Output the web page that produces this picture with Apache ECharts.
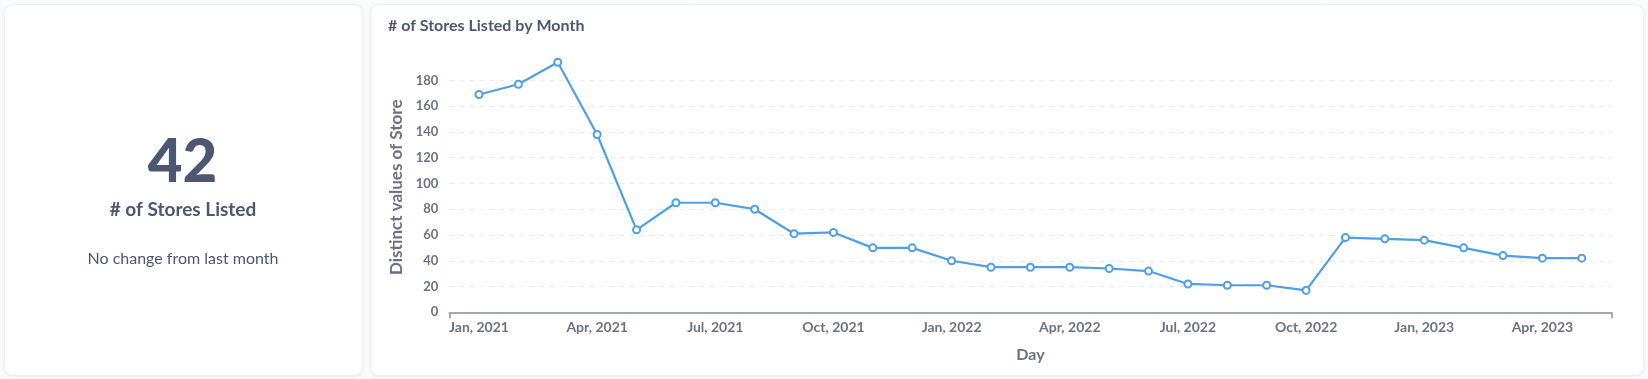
<!DOCTYPE html>
<html>
<head>
<meta charset="utf-8">
<script src="https://cdn.jsdelivr.net/npm/echarts@6/dist/echarts.min.js"></script>
<style>
  html, body { margin: 0; padding: 0; background: #f9fafb; }
  #main { width: 1648px; height: 379px; }
</style>
</head>
<body>
<div id="main"></div>
<script>
// ---- data ----
const months = [
  "Jan, 2021","Feb, 2021","Mar, 2021","Apr, 2021","May, 2021","Jun, 2021",
  "Jul, 2021","Aug, 2021","Sep, 2021","Oct, 2021","Nov, 2021","Dec, 2021",
  "Jan, 2022","Feb, 2022","Mar, 2022","Apr, 2022","May, 2022","Jun, 2022",
  "Jul, 2022","Aug, 2022","Sep, 2022","Oct, 2022","Nov, 2022","Dec, 2022",
  "Jan, 2023","Feb, 2023","Mar, 2023","Apr, 2023","May, 2023"
];
const storeCounts = [
  169, 177, 194, 138, 64, 85,
  85, 80, 61, 62, 50, 50,
  40, 35, 35, 35, 34, 32,
  22, 21, 21, 17, 58, 57,
  56, 50, 44, 42, 42
];
const xLabelIndices = [0, 3, 6, 9, 12, 15, 18, 21, 24, 27];
const yTicks = [0, 20, 40, 60, 80, 100, 120, 140, 160, 180];
const scalarValue = "42";
const scalarTitle = "# of Stores Listed";
const scalarNote = "No change from last month";
const chartTitle = "# of Stores Listed by Month";
const yName = "Distinct values of Store";
const xName = "Day";

const X_MIN = -0.754, X_MAX = 28.76;
const FONT = "Lato, 'Noto Sans', sans-serif";
const TEXT = "#4c5773";
const LABEL = "#6c7283";

const chart = echarts.init(document.getElementById('main'), null, { renderer: 'canvas' });
chart.setOption({
  backgroundColor: '#f9fafb',
  animation: false,
  textStyle: { fontFamily: FONT },
  graphic: [
    { type: 'rect', z: -10, shape: { x: 4.5, y: 4.5, width: 358, height: 371, r: 8 },
      style: { fill: '#fff', stroke: '#eceef2', lineWidth: 1, shadowBlur: 3, shadowColor: 'rgba(0,0,0,0.05)', shadowOffsetY: 1 } },
    { type: 'rect', z: -10, shape: { x: 370.5, y: 4.5, width: 1273, height: 371, r: 8 },
      style: { fill: '#fff', stroke: '#eceef2', lineWidth: 1, shadowBlur: 3, shadowColor: 'rgba(0,0,0,0.05)', shadowOffsetY: 1 } },
    { type: 'text', x: 182.5, y: 162.5, style: { text: scalarValue, fontFamily: FONT, fontWeight: 900, fontSize: 60, fill: TEXT, align: 'center', verticalAlign: 'middle' } },
    { type: 'text', x: 183, y: 210, style: { text: scalarTitle, fontFamily: FONT, fontWeight: 'bold', fontSize: 19, fill: TEXT, align: 'center', verticalAlign: 'middle' } },
    { type: 'text', x: 183, y: 259, style: { text: scalarNote, fontFamily: FONT, fontWeight: 'normal', fontSize: 16, fill: TEXT, align: 'center', verticalAlign: 'middle' } },
    { type: 'text', x: 388, y: 25.5, style: { text: chartTitle, fontFamily: FONT, fontWeight: 'bold', fontSize: 16, fill: TEXT, align: 'left', verticalAlign: 'middle' } }
  ],
  grid: { left: 449.3, right: 36.3, top: 62.3, bottom: 66.7, containLabel: false },
  xAxis: {
    type: 'value',
    min: X_MIN, max: X_MAX,
    name: xName,
    nameLocation: 'middle',
    nameGap: 35,
    nameTextStyle: { fontFamily: FONT, fontWeight: 'bold', fontSize: 16, color: LABEL },
    axisLine: { show: true, lineStyle: { color: '#a3a8b6', width: 2 } },
    axisTick: { show: true, customValues: [X_MIN, X_MAX], length: 6, lineStyle: { color: '#a3a8b6', width: 2 } },
    axisLabel: {
      customValues: xLabelIndices,
      formatter: v => months[Math.round(v)] || '',
      fontFamily: FONT, fontWeight: 'bold', fontSize: 14, color: LABEL, margin: 8
    },
    splitLine: { show: false }
  },
  yAxis: {
    type: 'value',
    min: 0, max: 'dataMax',
    interval: 20,
    name: yName,
    nameLocation: 'middle',
    nameRotate: 90,
    nameGap: 38,
    nameTextStyle: { fontFamily: FONT, fontWeight: 'bold', fontSize: 17, color: LABEL },
    axisLine: { show: false },
    axisTick: { show: false },
    axisLabel: {
      customValues: yTicks,
      fontFamily: FONT, fontWeight: 'bold', fontSize: 13, color: LABEL, margin: 11
    },
    splitLine: { show: true, showMaxLine: false, showMinLine: false, lineStyle: { color: '#e9ebef', type: [5, 5], width: 1 } }
  },
  series: [{
    type: 'line',
    data: storeCounts.map((v, i) => [i, v]),
    lineStyle: { color: '#509ee3', width: 2.2 },
    itemStyle: { color: '#fff', borderColor: '#509ee3', borderWidth: 2 },
    symbol: 'circle',
    symbolSize: 7,
    showSymbol: true
  }]
});
</script>
</body>
</html>
